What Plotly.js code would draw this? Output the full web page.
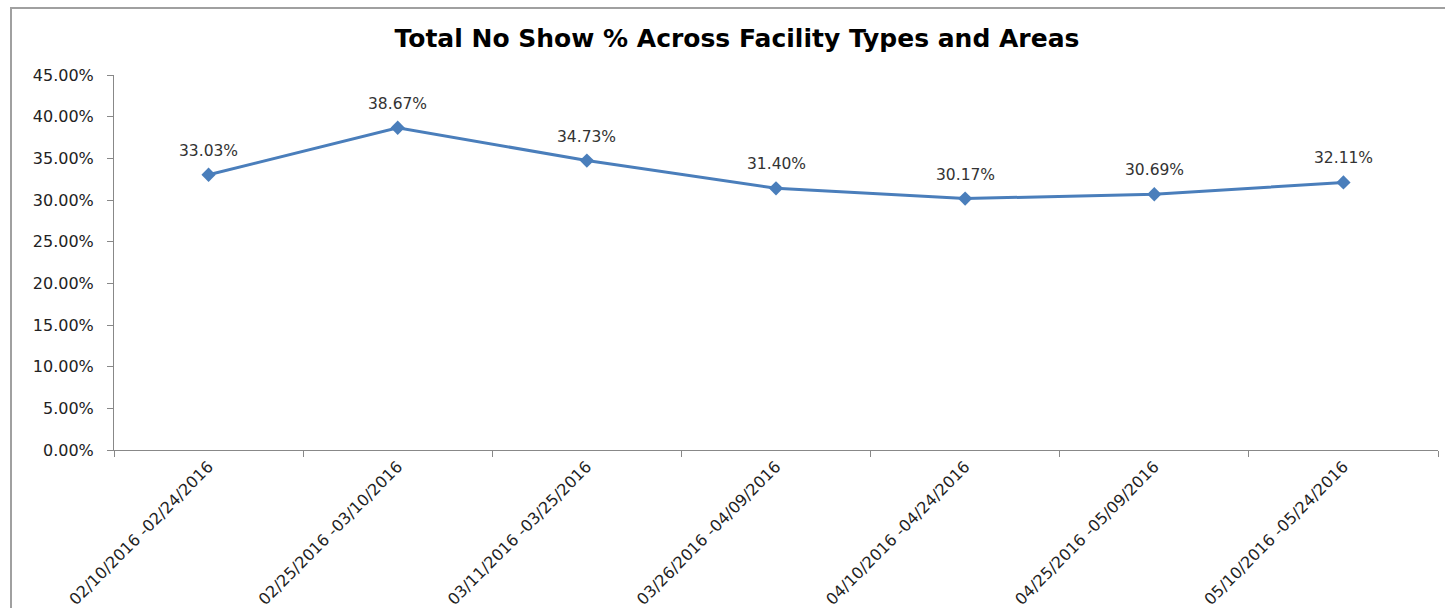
<!DOCTYPE html>
<html><head><meta charset="utf-8">
<script src="https://cdn.plot.ly/plotly-3.0.1.min.js"></script>
<style>html,body{margin:0;padding:0;background:#fff;}#chart{width:1445px;height:608px;}</style>
</head><body><div id="chart"></div>
<script>
var categories = ["02/10/2016 -02/24/2016","02/25/2016 -03/10/2016","03/11/2016 -03/25/2016","03/26/2016 -04/09/2016","04/10/2016 -04/24/2016","04/25/2016 -05/09/2016","05/10/2016 -05/24/2016"];
var noShowPct = [0.3303, 0.3867, 0.3473, 0.3140, 0.3017, 0.3069, 0.3211];
var yTicks = [0, 0.05, 0.10, 0.15, 0.20, 0.25, 0.30, 0.35, 0.40, 0.45];

var L = 114, R = 7, T = 75, B = 158, W = 1445, H = 608;
var pw = W - L - R, ph = H - T - B;
var FONT = 'DejaVu Sans, Verdana, sans-serif';

var trace = {
  x: categories, y: noShowPct, type: 'scatter', mode: 'lines+markers',
  line: {color: '#4a7ebb', width: 3},
  marker: {symbol: 'diamond', size: 11, color: '#4a7ebb'},
  cliponaxis: false, hoverinfo: 'x+y'
};

var annotations = categories.map(function(c, i){
  return {x: c, y: noShowPct[i], xref: 'x', yref: 'y', text: (noShowPct[i]*100).toFixed(2) + '%',
          showarrow: false, yshift: 24, font: {family: FONT, size: 15.5, color: '#333'}};
});

var layout = {
  width: W, height: H,
  margin: {l: L, r: R, t: T, b: B, pad: 0},
  paper_bgcolor: '#fff', plot_bgcolor: '#fff',
  showlegend: false,
  title: {text: '<b>Total No Show % Across Facility Types and Areas</b>', x: 0.51, xanchor: 'center', y: 1 - 38/H, yanchor: 'middle',
          font: {family: FONT, size: 25, color: '#000'}},
  xaxis: {type: 'category', range: [-0.5, 6.5], tickson: 'boundaries', ticks: 'outside', ticklen: 6, tickcolor: '#888',
          showline: true, linecolor: '#888', linewidth: 1, showgrid: false, zeroline: false,
          tickangle: -45, tickfont: {family: FONT, size: 16, color: '#222'}},
  yaxis: {range: [0, 0.45], tickvals: yTicks, tickformat: '.2%', ticks: 'outside', ticklen: 6, tickcolor: '#888',
          ticklabelstandoff: 10,
          showline: true, linecolor: '#888', linewidth: 1, showgrid: false, zeroline: false,
          tickfont: {family: FONT, size: 16, color: '#222'}},
  annotations: annotations,
  shapes: [{type: 'rect', xref: 'paper', yref: 'paper',
            x0: (11 - L)/pw, x1: (1460 - L)/pw, y0: (H - B - 620)/ph, y1: (H - B - 8)/ph,
            line: {color: '#a0a0a0', width: 2}, fillcolor: 'rgba(0,0,0,0)', layer: 'below'}]
};

Plotly.newPlot('chart', [trace], layout, {displayModeBar: false, staticPlot: true});
</script></body></html>
